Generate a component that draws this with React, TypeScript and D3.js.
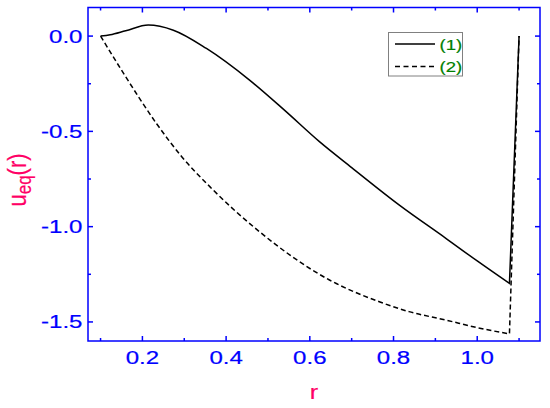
import React from "react";
import * as d3 from "d3";

const r1 = [0.1, 0.123, 0.16, 0.214, 0.274, 0.353, 0.456, 0.54, 0.623, 0.7, 0.814, 0.925, 1.0, 1.077];
const u1 = [0, 0.007, 0.028, 0.058, 0.031, -0.065, -0.231, -0.39, -0.554, -0.69, -0.887, -1.061, -1.18, -1.298];
const r2 = [0.1, 0.155, 0.234, 0.294, 0.361, 0.48, 0.647, 0.766, 0.837, 0.925, 1.0, 1.077];
const u2 = [0, -0.196, -0.46, -0.633, -0.79, -1.027, -1.28, -1.394, -1.446, -1.49, -1.53, -1.563];
const rEnd = 1.1;
const uEnd = 0;
const xMajor = [0.2, 0.4, 0.6, 0.8, 1.0];
const xMinor = [0.1, 0.3, 0.5, 0.7, 0.9, 1.1];
const yMajor = [0, -0.5, -1.0, -1.5];
const yMinor = [-0.25, -0.75, -1.25];
const legendLabels = ["(1)", "(2)"];

const L = 88, R = 540, T = 7.5, B = 341;
const BLUE = "#0000ff";
const PINK = "#ff0066";
const GREEN = "#008000";
const FONT = "'Liberation Sans', Arial, sans-serif";
const SX = 1.3;
const TW = 0.2;

export default function App() {
  const x = d3.scaleLinear().domain([0.07, 1.15]).range([L, R]);
  const y = d3.scaleLinear().domain([-1.6, 0.15]).range([B, T]);
  const line = d3
    .line<[number, number]>()
    .x((d) => x(d[0]))
    .y((d) => y(d[1]))
    .curve(d3.curveMonotoneX);
  const p1 = line(r1.map((r, i) => [r, u1[i]]))! + `L${x(rEnd)},${y(uEnd)}`;
  const p2 = line(r2.map((r, i) => [r, u2[i]]))! + `L${x(rEnd)},${y(uEnd)}`;

  const maj = 5, min = 3;
  return (
    <svg width={550} height={408} style={{ position: "absolute", left: 0, top: 0, background: "#fff" }} fontFamily={FONT}>
      <rect x={0} y={0} width={550} height={408} fill="#fff" />
      <path d={p2} fill="none" stroke="#000" strokeWidth={1.5} strokeDasharray="5,3" />
      <path d={p1} fill="none" stroke="#000" strokeWidth={1.5} />
      {/* frame */}
      <rect x={L} y={T} width={R - L} height={B - T} fill="none" stroke={BLUE} strokeWidth={1.5} />
      {xMajor.map((v) => (
        <g key={"xm" + v}>
          <line x1={x(v)} x2={x(v)} y1={B} y2={B - maj} stroke={BLUE} strokeWidth={1.5} />
          <line x1={x(v)} x2={x(v)} y1={T} y2={T + maj} stroke={BLUE} strokeWidth={1.5} />
          <text transform={`translate(${x(v)},364) scale(${SX},1)`} fill={BLUE} stroke={BLUE} strokeWidth={TW} fontSize={18.5} textAnchor="middle">
            {v.toFixed(1)}
          </text>
        </g>
      ))}
      {xMinor.map((v) => (
        <g key={"xn" + v}>
          <line x1={x(v)} x2={x(v)} y1={B} y2={B - min} stroke={BLUE} strokeWidth={1.5} />
          <line x1={x(v)} x2={x(v)} y1={T} y2={T + min} stroke={BLUE} strokeWidth={1.5} />
        </g>
      ))}
      {yMajor.map((v) => (
        <g key={"ym" + v}>
          <line x1={L} x2={L + maj} y1={y(v)} y2={y(v)} stroke={BLUE} strokeWidth={1.5} />
          <line x1={R} x2={R - maj} y1={y(v)} y2={y(v)} stroke={BLUE} strokeWidth={1.5} />
          <text transform={`translate(82.5,${y(v) + 6.5}) scale(${SX},1)`} fill={BLUE} stroke={BLUE} strokeWidth={TW} fontSize={18.5} textAnchor="end">
            {v.toFixed(1)}
          </text>
        </g>
      ))}
      {yMinor.map((v) => (
        <g key={"yn" + v}>
          <line x1={L} x2={L + min} y1={y(v)} y2={y(v)} stroke={BLUE} strokeWidth={1.5} />
          <line x1={R} x2={R - min} y1={y(v)} y2={y(v)} stroke={BLUE} strokeWidth={1.5} />
        </g>
      ))}
      {/* axis titles */}
      <text transform={`translate(${(L + R) / 2},399) scale(1.2,1)`} fill={PINK} stroke={PINK} strokeWidth={TW} fontSize={21} textAnchor="middle">r</text>
      <text transform="translate(26,180) rotate(-90) scale(1,1.2)" fill={PINK} stroke={PINK} strokeWidth={TW} fontSize={22} textAnchor="middle">
        u<tspan fontSize={17} dy={4}>eq</tspan>
        <tspan dy={-4}>(r)</tspan>
      </text>
      {/* legend */}
      <rect x={388.5} y={32.5} width={74} height={43.5} fill="#fff" stroke="#808080" strokeWidth={1} />
      {legendLabels.map((lab, i) => (
        <g key={lab}>
          <line
            x1={395}
            x2={435}
            y1={44 + i * 22.5}
            y2={44 + i * 22.5}
            stroke="#000"
            strokeWidth={1.5}
            strokeDasharray={i === 1 ? "5,3.5" : undefined}
          />
          <text transform={`translate(439.5,${44 + i * 22.5 + 5.5}) scale(1.2,1)`} fill={GREEN} stroke={GREEN} strokeWidth={TW} fontSize={15.5}>
            {lab}
          </text>
        </g>
      ))}
    </svg>
  );
}
